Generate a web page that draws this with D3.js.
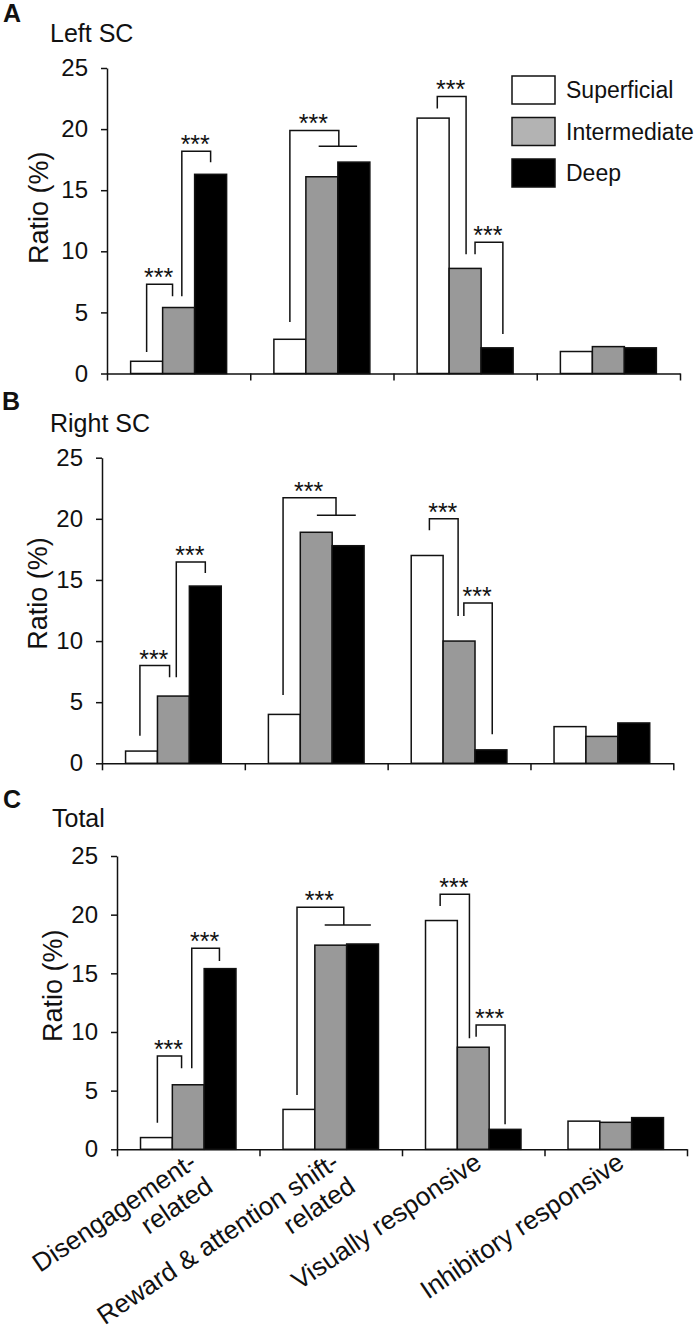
<!DOCTYPE html>
<html><head><meta charset="utf-8">
<script src="https://cdn.jsdelivr.net/npm/d3@7"></script>
<style>
body{margin:0;background:#fff}
svg{display:block}
text{font-family:"Liberation Sans",Arial,Helvetica,sans-serif;fill:#111}
</style>
</head><body>
<svg id="chart" width="700" height="1334"></svg>
<script>
// ---------------- DATA ----------------
const categories = ["Disengagement-related", "Reward & attention shift-related", "Visually responsive", "Inhibitory responsive"];
const categoryLines = [["Disengagement-", "related"], ["Reward & attention shift-", "related"], ["Visually responsive"], ["Inhibitory responsive"]];
const layers = ["Superficial", "Intermediate", "Deep"];
const yTicks = [0, 5, 10, 15, 20, 25];

const leftSuperficial   = [1.0, 2.8, 20.9, 1.8];
const leftIntermediate  = [5.4, 16.1, 8.6, 2.2];
const leftDeep          = [16.3, 17.3, 2.1, 2.1];

const rightSuperficial  = [1.0, 4.0, 17.0, 3.0];
const rightIntermediate = [5.5, 18.9, 10.0, 2.2];
const rightDeep         = [14.5, 17.8, 1.1, 3.3];

const totalSuperficial  = [1.0, 3.4, 19.5, 2.4];
const totalIntermediate = [5.5, 17.4, 8.7, 2.3];
const totalDeep         = [15.4, 17.5, 1.7, 2.7];

// significance brackets: category, left leg [layer, offset, bottom], right leg [layer, offset, bottom], top, optional group bar [layerFrom, off, layerTo, off]
const leftBrackets = [
  {cat:0, l:[0, 0.00, 1.76], r:[1, -0.19, 6.33], top:7.31},
  {cat:0, l:[1, 0.10, 6.33], r:[2, 0.00, 17.28], top:18.18},
  {cat:1, l:[0, 0.00, 4.21], r:[1, 0.53, 18.59], top:19.89, g:[1, -0.10, 2, 0.10]},
  {cat:2, l:[0, 0.13, 21.69], r:[1, 0.03, 9.76], top:22.67},
  {cat:2, l:[1, 0.31, 9.76], r:[2, 0.18, 3.23], top:10.74}
];
const rightBrackets = [
  {cat:0, l:[0, -0.05, 2.26], r:[1, -0.12, 7.03], top:8.0},
  {cat:0, l:[1, 0.09, 7.03], r:[2, 0.00, 15.57], top:16.47},
  {cat:1, l:[0, -0.04, 5.58], r:[1, 0.62, 20.29], top:21.73, g:[1, 0.02, 2, 0.24]},
  {cat:2, l:[0, 0.07, 19.06], r:[1, -0.03, 12.06], top:20.0},
  {cat:2, l:[1, 0.15, 12.06], r:[2, 0.04, 2.37], top:13.12}
];
const totalBrackets = [
  {cat:0, l:[0, 0.03, 2.27], r:[1, -0.21, 6.9], top:7.95},
  {cat:0, l:[1, 0.11, 6.9], r:[2, -0.02, 16.05], top:17.14},
  {cat:1, l:[0, -0.06, 4.63], r:[1, 0.41, 19.12], top:20.63, g:[1, -0.19, 2, 0.26]},
  {cat:2, l:[0, -0.04, 20.74], r:[1, -0.12, 9.46], top:21.74},
  {cat:2, l:[1, 0.09, 9.6], r:[2, 0.00, 2.13], top:10.6}
];
const sigLabel = "***";

// ---------------- STYLE / LAYOUT ----------------
const barColors = {Superficial:"#ffffff", Intermediate:"#999999", Deep:"#000000"};
const legendColors = {Superficial:"#ffffff", Intermediate:"#b3b3b3", Deep:"#000000"};

const panels = [
  {letter:"A", title:"Left SC", series:[leftSuperficial, leftIntermediate, leftDeep], brackets:leftBrackets,
   xl:107, xr:680, yt:68, yb:373.5, letterPos:[3,22], titlePos:[50,42], ytitleDx:-59, ytitleDy:-13, legend:true, xlabels:false},
  {letter:"B", title:"Right SC", series:[rightSuperficial, rightIntermediate, rightDeep], brackets:rightBrackets,
   xl:102, xr:673.3, yt:457.7, yb:763.3, letterPos:[2,410], titlePos:[50,432], ytitleDx:-55, ytitleDy:-17, legend:false, xlabels:false},
  {letter:"C", title:"Total", series:[totalSuperficial, totalIntermediate, totalDeep], brackets:totalBrackets,
   xl:117, xr:687, yt:856, yb:1149.3, letterPos:[3,808], titlePos:[52,827], ytitleDx:-55, ytitleDy:-17, legend:false, xlabels:true}
];

const svg = d3.select("#chart");

panels.forEach(p => {
  const g = svg.append("g");
  const x0 = d3.scaleBand().domain(categories).range([p.xl, p.xr]).paddingInner(0).paddingOuter(0);
  const pad = x0.bandwidth() * 0.165;
  const x1 = d3.scaleBand().domain(layers).range([pad, x0.bandwidth() - pad]).padding(0);
  const y = d3.scaleLinear().domain([0, 25]).range([p.yb, p.yt]);
  const xb = d3.scaleLinear().domain([0, categories.length]).range([p.xl, p.xr]);

  const rows = [];
  categories.forEach((c, ci) => layers.forEach((l, li) => rows.push({cat:c, layer:l, value:p.series[li][ci]})));

  g.selectAll("rect.bar").data(rows).join("rect")
    .attr("class", "bar")
    .attr("x", d => x0(d.cat) + x1(d.layer))
    .attr("width", x1.bandwidth())
    .attr("y", d => y(d.value))
    .attr("height", d => y(0) - y(d.value))
    .attr("fill", d => barColors[d.layer])
    .attr("stroke", "#111")
    .attr("stroke-width", 1.5);

  const ya = g.append("g").attr("transform", `translate(${p.xl},0)`)
    .call(d3.axisLeft(y).tickValues(yTicks).tickSize(6).tickSizeOuter(0).tickPadding(13).tickFormat(d3.format("d")));
  ya.selectAll("path,line").attr("stroke", "#111").attr("stroke-width", 1.5);
  ya.selectAll("text").attr("font-size", 24).attr("fill", "#111")
    .style("font-family", '"Liberation Sans",Arial,sans-serif');

  const xa = g.append("g").attr("transform", `translate(0,${p.yb})`)
    .call(d3.axisBottom(xb).tickValues(d3.range(categories.length + 1)).tickSize(7).tickSizeOuter(0).tickFormat(""));
  xa.selectAll("path,line").attr("stroke", "#111").attr("stroke-width", 1.5);

  g.append("text")
    .attr("transform", `translate(${p.xl + p.ytitleDx},${(p.yt + p.yb) / 2 + p.ytitleDy}) rotate(-90)`)
    .attr("text-anchor", "middle")
    .attr("font-size", 27)
    .text("Ratio (%)");

  g.append("text").attr("x", p.letterPos[0]).attr("y", p.letterPos[1])
    .attr("font-size", 25).attr("font-weight", "bold").text(p.letter);
  g.append("text").attr("x", p.titlePos[0]).attr("y", p.titlePos[1])
    .attr("font-size", 25).text(p.title);

  const legX = (cat, layer, off) => x0(categories[cat]) + x1(layers[layer]) + x1.bandwidth() * (0.5 + off);
  p.brackets.forEach(b => {
    const lx = legX(b.cat, b.l[0], b.l[1]);
    const rx = legX(b.cat, b.r[0], b.r[1]);
    const path = d3.path();
    path.moveTo(lx, y(b.l[2]));
    path.lineTo(lx, y(b.top));
    path.lineTo(rx, y(b.top));
    path.lineTo(rx, y(b.r[2]));
    g.append("path").attr("d", path.toString()).attr("fill", "none")
      .attr("stroke", "#111").attr("stroke-width", 1.5);
    if (b.g) {
      g.append("line")
        .attr("x1", legX(b.cat, b.g[0], b.g[1])).attr("x2", legX(b.cat, b.g[2], b.g[3]))
        .attr("y1", y(b.r[2])).attr("y2", y(b.r[2]))
        .attr("stroke", "#111").attr("stroke-width", 1.5);
    }
    g.append("text")
      .attr("x", (lx + rx) / 2 - 1)
      .attr("y", y(b.top) + 2)
      .attr("text-anchor", "middle")
      .attr("font-size", 25)
      .text(sigLabel);
  });

  if (p.legend) {
    const lg = g.append("g").attr("transform", "translate(512,76)");
    const items = lg.selectAll("g").data(layers).join("g")
      .attr("transform", (d, i) => `translate(0,${i * 41.5})`);
    items.append("rect").attr("width", 43).attr("height", 28)
      .attr("fill", d => legendColors[d]).attr("stroke", "#111").attr("stroke-width", 1.5);
    items.append("text").attr("x", 54).attr("y", 22).attr("font-size", 23).text(d => d);
  }

  if (p.xlabels) {
    categories.forEach((c, ci) => {
      const cx = x0(c) + x0.bandwidth() / 2;
      const t = g.append("text")
        .attr("transform", `translate(${cx + 10},${p.yb + 17}) rotate(-34)`)
        .attr("text-anchor", "end")
        .attr("font-size", 26);
      categoryLines[ci].forEach((line, li) => {
        t.append("tspan").attr("x", 0).attr("dy", li === 0 ? 0 : "1.12em").text(line);
      });
    });
  }
});
</script>
</body></html>
